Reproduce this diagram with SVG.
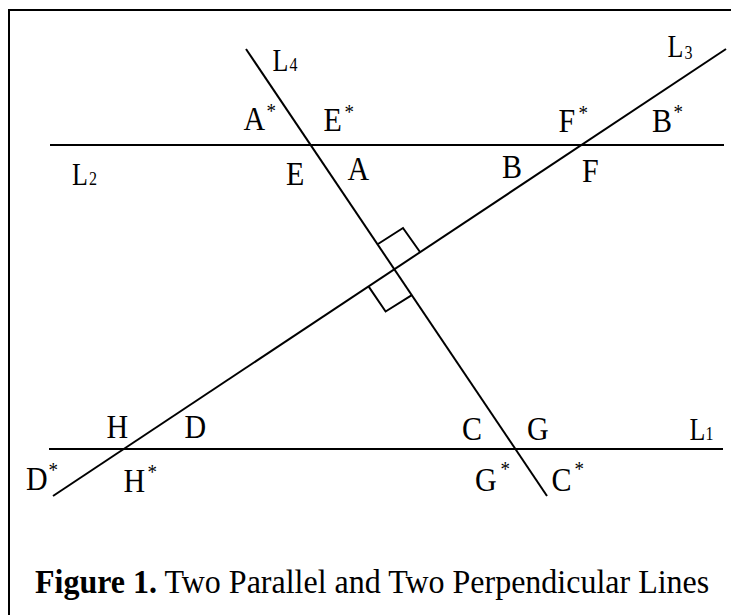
<svg xmlns="http://www.w3.org/2000/svg" width="731" height="615" viewBox="0 0 731 615">
<style>
.ln{stroke:#000;stroke-width:2;fill:none;stroke-linecap:butt}
.lb{font-family:"Liberation Serif","Times New Roman",serif;font-size:30px;fill:#000}
.st{font-family:"Liberation Serif","Times New Roman",serif;font-size:19px;fill:#000}
.ll{font-family:"Liberation Serif","Times New Roman",serif;font-size:26px;fill:#000}
.sub{font-size:16px}
.cap{font-family:"Liberation Serif","Times New Roman",serif;font-size:32px;fill:#000}
</style>
<rect width="731" height="615" fill="#fff"/>
<path class="ln" d="M9,615 V10 H731"/>
<g id="connectors">
  <line id="L1" class="ln" x1="49" y1="449" x2="723" y2="449"/>
  <line id="L2" class="ln" x1="50" y1="145" x2="724" y2="145"/>
  <line id="L3" class="ln" x1="53" y1="496" x2="726" y2="49"/>
  <line id="L4" class="ln" x1="246" y1="49" x2="547" y2="496"/>
  <polyline id="right-angle-upper" class="ln" points="378,244 403,228 420,252"/>
  <polyline id="right-angle-lower" class="ln" points="368.7,286.6 385.6,311.5 411.8,295.2"/>
</g>
<g id="line-labels">
  <text class="ll" transform="translate(272.5,71) scale(1,1.2)">L<tspan class="sub" dx="1">4</tspan></text>
  <text class="ll" transform="translate(667.5,57) scale(1,1.2)">L<tspan class="sub" dx="1" dy="1.5">3</tspan></text>
  <text class="ll" transform="translate(72,185) scale(1,1.2)">L<tspan class="sub" dx="1">2</tspan></text>
  <text class="ll" transform="translate(689.5,440) scale(1,1.2)">L<tspan class="sub">1</tspan></text>
</g>
<g id="angle-labels">
  <g transform="translate(243.5,130) scale(1,1.1)"><text class="lb">A</text><text class="st" x="23" y="-11">*</text></g>
  <g transform="translate(323.5,131) scale(1,1.1)"><text class="lb">E</text><text class="st" x="21" y="-11">*</text></g>
  <g transform="translate(286,185) scale(1,1.1)"><text class="lb">E</text></g>
  <g transform="translate(347.5,180) scale(1,1.1)"><text class="lb">A</text></g>
  <g transform="translate(558.5,132) scale(1,1.1)"><text class="lb">F</text><text class="st" x="20" y="-11">*</text></g>
  <g transform="translate(652,132) scale(1,1.1)"><text class="lb">B</text><text class="st" x="21.5" y="-12">*</text></g>
  <g transform="translate(502,178) scale(1,1.1)"><text class="lb">B</text></g>
  <g transform="translate(582,182) scale(1,1.1)"><text class="lb">F</text></g>
  <g transform="translate(106.5,438) scale(1,1.1)"><text class="lb">H</text></g>
  <g transform="translate(184.5,438) scale(1,1.1)"><text class="lb">D</text></g>
  <g transform="translate(26,490) scale(1,1.1)"><text class="lb">D</text><text class="st" x="22.5" y="-12">*</text></g>
  <g transform="translate(123.5,492) scale(1,1.1)"><text class="lb">H</text><text class="st" x="24" y="-12">*</text></g>
  <g transform="translate(462,440) scale(1,1.1)"><text class="lb">C</text></g>
  <g transform="translate(527,440) scale(1,1.1)"><text class="lb">G</text></g>
  <g transform="translate(475,491) scale(1,1.1)"><text class="lb">G</text><text class="st" x="25.5" y="-14">*</text></g>
  <g transform="translate(551.5,491) scale(1,1.1)"><text class="lb">C</text><text class="st" x="23" y="-14">*</text></g>
</g>
<text id="caption" class="cap" transform="translate(35,593) scale(1,1.05)"><tspan font-weight="bold">Figure 1.</tspan> Two Parallel and Two Perpendicular Lines</text>
</svg>
